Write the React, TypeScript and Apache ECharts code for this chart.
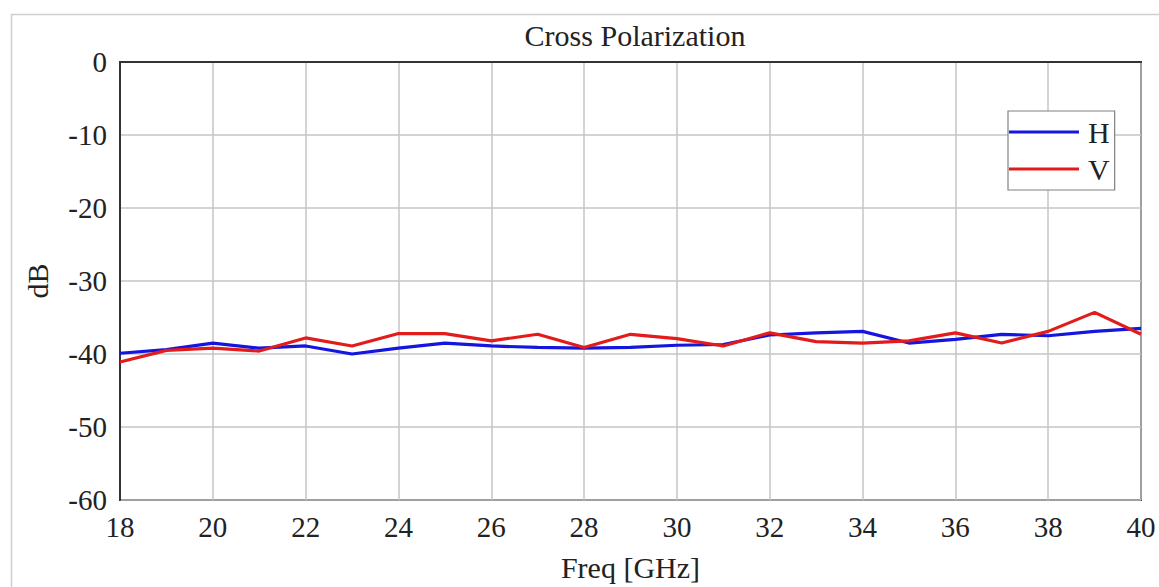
import React, { useEffect, useRef } from "react";
import * as echarts from "echarts";

const freqs = [18, 19, 20, 21, 22, 23, 24, 25, 26, 27, 28, 29, 30, 31, 32, 33, 34, 35, 36, 37, 38, 39, 40];
const hValues = [-39.9, -39.4, -38.5, -39.2, -38.9, -40.0, -39.2, -38.5, -38.9, -39.1, -39.2, -39.1, -38.8, -38.7, -37.4, -37.1, -36.9, -38.5, -38.0, -37.3, -37.5, -36.9, -36.5];
const vValues = [-41.1, -39.5, -39.2, -39.6, -37.8, -38.9, -37.2, -37.2, -38.2, -37.3, -39.1, -37.3, -37.9, -38.9, -37.1, -38.3, -38.5, -38.2, -37.1, -38.5, -36.9, -34.3, -37.3];
const seriesNames = ["H", "V"];
const titleText = "Cross Polarization";
const xName = "Freq [GHz]";
const yName = "dB";

const FONT = "Liberation Serif";

export default function App() {
  const ref = useRef<HTMLDivElement>(null);
  useEffect(() => {
    if (!ref.current) return;
    const chart = echarts.init(ref.current, null, { renderer: "svg" });
    const toPairs = (vals: number[]) => freqs.map((f, i) => [f, vals[i]]);
    chart.setOption({
      animation: false,
      backgroundColor: "#ffffff",
      title: {
        text: titleText,
        left: 630,
        textAlign: "center",
        top: 15,
        textStyle: { fontFamily: FONT, fontSize: 30, fontWeight: "normal", color: "#222" },
      },
      graphic: [
        {
          type: "rect",
          left: 9,
          top: 12,
          shape: { width: 1200, height: 700 },
          style: { fill: "none", stroke: "#cfcfcf", lineWidth: 1.5 },
          silent: true,
          z: -10,
        },
      ],
      legend: {
        data: seriesNames,
        orient: "vertical",
        left: 1008,
        top: 111,
        icon: "rect",
        itemWidth: 70,
        itemHeight: 3,
        itemGap: 7,
        padding: [6, 5, 6, 1],
        borderColor: "#808080",
        borderWidth: 1.2,
        backgroundColor: "#fff",
        textStyle: { fontFamily: FONT, fontSize: 30, color: "#222", padding: [0, 0, 0, 4] },
      },
      grid: {
        left: 120,
        top: 62,
        right: 18,
        bottom: 86,
        show: true,
        borderColor: "#333",
        borderWidth: 2,
        containLabel: false,
      },
      xAxis: {
        type: "value",
        min: 18,
        max: 40,
        interval: 2,
        name: xName,
        nameLocation: "middle",
        nameGap: 52,
        nameTextStyle: { fontFamily: FONT, fontSize: 30, color: "#222" },
        axisLine: { show: true, lineStyle: { color: "#333", width: 2 } },
        axisTick: { show: false },
        axisLabel: { fontFamily: FONT, fontSize: 29, color: "#222", margin: 12 },
        splitLine: { show: true, lineStyle: { color: "#c4c4c4", width: 1.5 } },
      },
      yAxis: {
        type: "value",
        min: -60,
        max: 0,
        interval: 10,
        name: yName,
        nameLocation: "middle",
        nameGap: 68,
        nameRotate: 90,
        nameTextStyle: { fontFamily: FONT, fontSize: 30, color: "#222" },
        axisLine: { show: true, lineStyle: { color: "#333", width: 2 } },
        axisTick: { show: false },
        axisLabel: { fontFamily: FONT, fontSize: 29, color: "#222", margin: 13 },
        splitLine: { show: true, lineStyle: { color: "#c4c4c4", width: 1.5 } },
      },
      series: [
        {
          name: seriesNames[0],
          type: "line",
          data: toPairs(hValues),
          symbol: "none",
          lineStyle: { color: "#1515e0", width: 3.2 },
          itemStyle: { color: "#1515e0" },
          z: 3,
        },
        {
          name: seriesNames[1],
          type: "line",
          data: toPairs(vValues),
          symbol: "none",
          lineStyle: { color: "#e21b1b", width: 3.2 },
          itemStyle: { color: "#e21b1b" },
          z: 4,
        },
      ],
    });
    return () => chart.dispose();
  }, []);
  return (
    <div
      ref={ref}
      style={{ position: "fixed", left: 0, top: 0, width: 1159, height: 587 }}
    />
  );
}
